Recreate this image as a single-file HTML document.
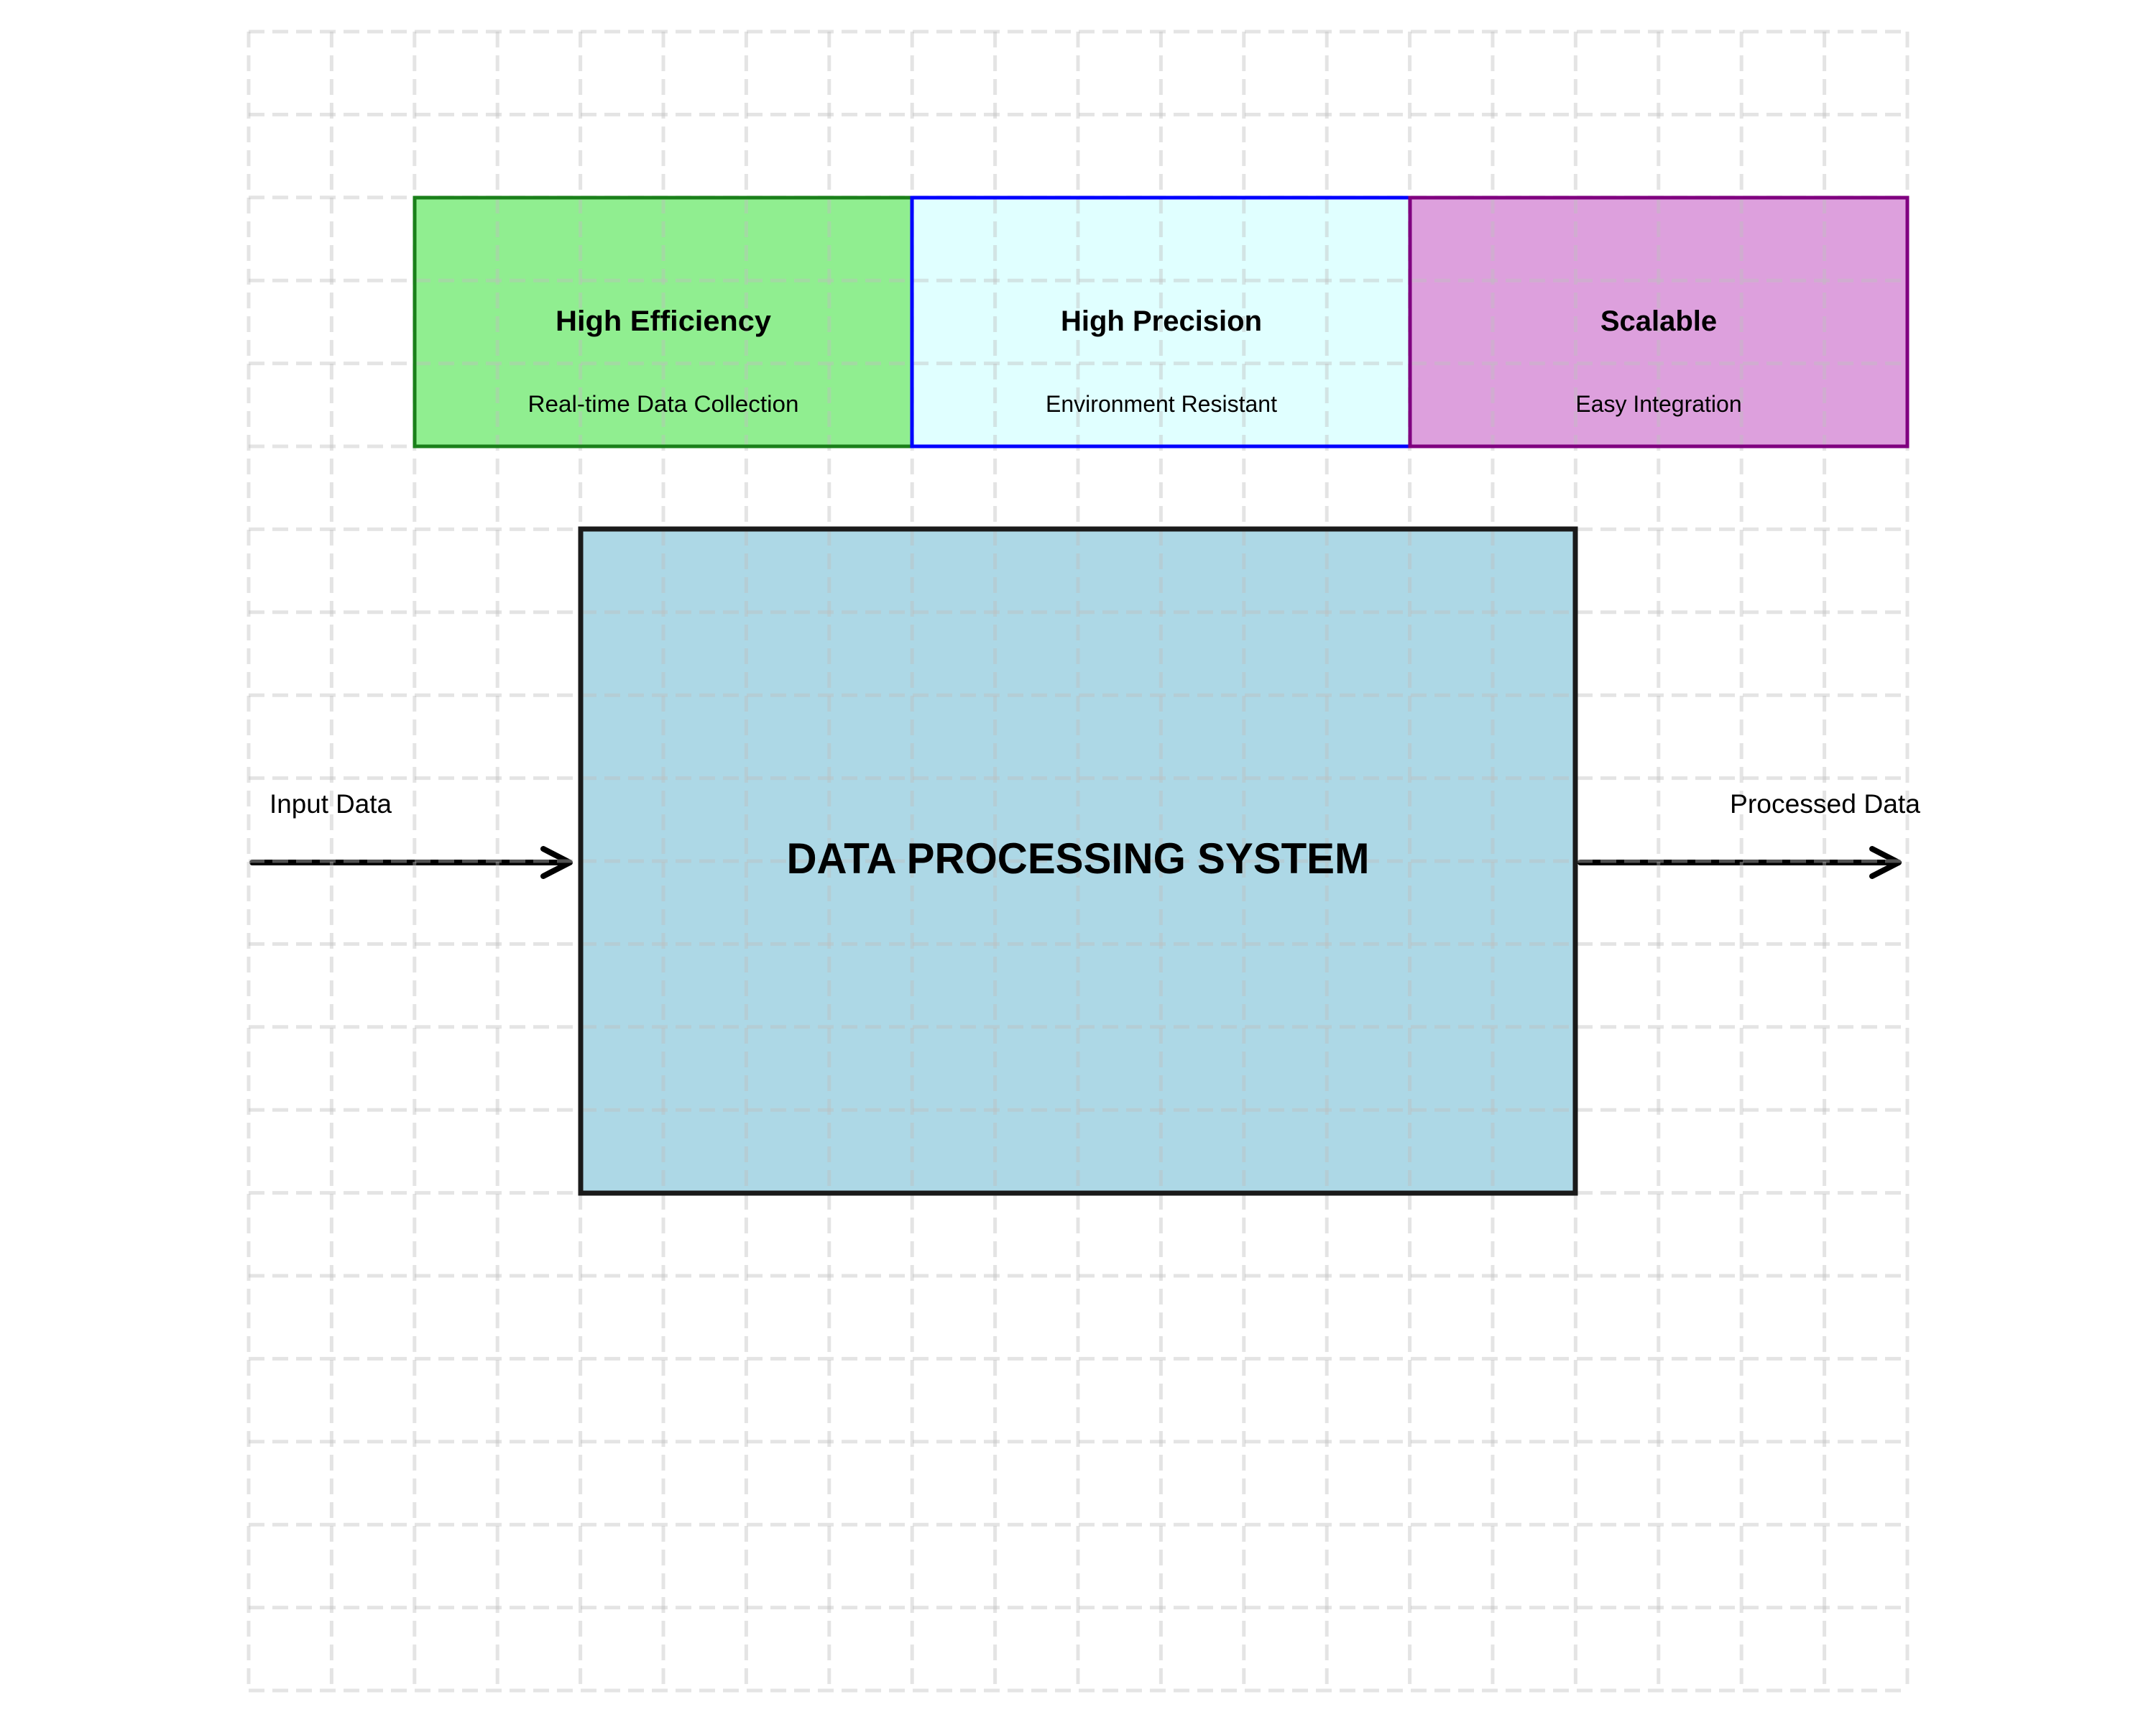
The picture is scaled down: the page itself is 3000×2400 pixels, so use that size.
<!DOCTYPE html>
<html><head><meta charset="utf-8"><style>html,body{margin:0;padding:0;background:#fff}svg{display:block}</style></head>
<body>
<svg width="3000" height="2400" viewBox="0 0 3000 2400" xmlns="http://www.w3.org/2000/svg" font-family="Liberation Sans, Arial, sans-serif">
<rect width="3000" height="2400" fill="#fff"/>
<!-- fills -->
<rect x="577" y="275" width="692" height="346" fill="#90EE90"/>
<rect x="1269" y="275" width="693" height="346" fill="#E0FFFF"/>
<rect x="1962" y="275" width="692" height="346" fill="#DDA0DD"/>
<rect x="808" y="736" width="1384" height="924" fill="#ADD8E6"/>
<!-- arrows -->
<g stroke="#000" stroke-width="8" stroke-linecap="round" stroke-linejoin="round" fill="none">
<line x1="351" y1="1200" x2="792" y2="1200"/>
<polyline points="756,1181 793,1200 756,1219"/>
<line x1="2199" y1="1200" x2="2641" y2="1200"/>
<polyline points="2605,1181 2642,1200 2605,1219"/>
</g>
<!-- grid overlay -->
<g stroke="rgba(190,190,190,0.42)" stroke-width="5" stroke-dasharray="22 11" fill="none">
<path d="M346 44V2353M461.4 44V2353M576.8 44V2353M692.2 44V2353M807.6 44V2353M923 44V2353M1038.4 44V2353M1153.8 44V2353M1269.2 44V2353M1384.6 44V2353M1500 44V2353M1615.4 44V2353M1730.8 44V2353M1846.2 44V2353M1961.6 44V2353M2077 44V2353M2192.4 44V2353M2307.8 44V2353M2423.2 44V2353M2538.6 44V2353M2654 44V2353"/>
<path d="M346 44H2654M346 159.4H2654M346 274.8H2654M346 390.2H2654M346 505.6H2654M346 621H2654M346 736.4H2654M346 851.8H2654M346 967.2H2654M346 1082.6H2654M346 1198H2654M346 1313.4H2654M346 1428.8H2654M346 1544.2H2654M346 1659.6H2654M346 1775H2654M346 1890.4H2654M346 2005.8H2654M346 2121.2H2654M346 2236.6H2654M346 2352H2654"/>
</g>
<!-- borders -->
<rect x="577" y="275" width="692" height="346" fill="none" stroke="#1a801a" stroke-width="5"/>
<rect x="1269" y="275" width="693" height="346" fill="none" stroke="#0000ff" stroke-width="5"/>
<rect x="1962" y="275" width="692" height="346" fill="none" stroke="#800080" stroke-width="5"/>
<rect x="808" y="736" width="1384" height="924" fill="none" stroke="#1a1a1a" stroke-width="7"/>
<g text-anchor="middle" fill="#000">
<text x="923" y="460" font-size="40" font-weight="bold" textLength="300" lengthAdjust="spacingAndGlyphs">High Efficiency</text>
<text x="923" y="573" font-size="32" textLength="377" lengthAdjust="spacingAndGlyphs">Real-time Data Collection</text>
<text x="1616" y="460" font-size="40" font-weight="bold">High Precision</text>
<text x="1616" y="573" font-size="32">Environment Resistant</text>
<text x="2308" y="460" font-size="40" font-weight="bold">Scalable</text>
<text x="2308" y="573" font-size="32">Easy Integration</text>
<text x="1500" y="1215" font-size="60" font-weight="bold" textLength="811" lengthAdjust="spacingAndGlyphs">DATA PROCESSING SYSTEM</text>
</g>
<text x="375" y="1131" font-size="37" textLength="170" lengthAdjust="spacingAndGlyphs">Input Data</text>
<text x="2407" y="1131" font-size="37" textLength="265" lengthAdjust="spacingAndGlyphs">Processed Data</text>
</svg>
</body></html>
